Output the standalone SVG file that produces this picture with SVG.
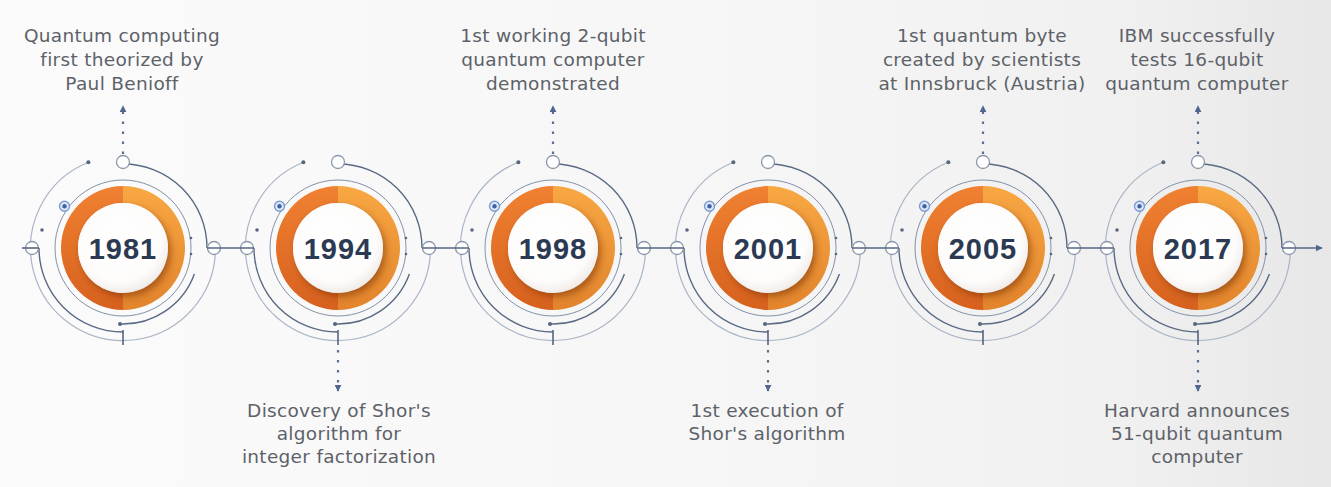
<svg xmlns="http://www.w3.org/2000/svg" xmlns:xlink="http://www.w3.org/1999/xlink" width="1331" height="487" viewBox="0 0 1331 487">
<style>
.lbl{font-family:"DejaVu Sans","Liberation Sans",sans-serif;font-size:18.5px;fill:#5d6269;text-anchor:middle;letter-spacing:0.3px}
.yr{font-family:"Liberation Sans",Arial,sans-serif;font-weight:bold;font-size:29px;fill:#2b3a52;text-anchor:middle;letter-spacing:1px}
.dark{fill:none;stroke:#5a6a83;stroke-width:1.4}
.faint{fill:none;stroke:#aab5c5;stroke-width:1.2}
.inner{fill:none;stroke:#8391a7;stroke-width:1}
.knob{fill:#ffffff;stroke:#8b98ac;stroke-width:1.3}
.conn{fill:none;stroke:#56667f;stroke-width:1.6}
.dot{fill:none;stroke:#5b6f92;stroke-width:2.2;stroke-dasharray:2.5 7.5}
</style>
<defs>
<linearGradient id="bg" x1="0" y1="0" x2="1" y2="0">
<stop offset="0" stop-color="#fbfbfb"/><stop offset="0.55" stop-color="#f6f6f6"/><stop offset="0.85" stop-color="#f0f0f0"/><stop offset="1" stop-color="#e7e7e7"/>
</linearGradient>
<linearGradient id="gL" x1="0" y1="0" x2="0" y2="1">
<stop offset="0" stop-color="#f08131"/><stop offset="1" stop-color="#d6611e"/>
</linearGradient>
<linearGradient id="gR" x1="0" y1="0" x2="0" y2="1">
<stop offset="0" stop-color="#f8a843"/><stop offset="1" stop-color="#e2842c"/>
</linearGradient>
<radialGradient id="gW" cx="0.45" cy="0.4" r="0.6">
<stop offset="0" stop-color="#ffffff"/><stop offset="0.8" stop-color="#fdfcfb"/><stop offset="1" stop-color="#f1ece8"/>
</radialGradient>
<filter id="sh" x="-40%" y="-40%" width="180%" height="180%">
<feDropShadow dx="3" dy="4" stdDeviation="3.5" flood-color="#7a3306" flood-opacity="0.55"/>
</filter>
<marker id="arr" viewBox="0 0 10 10" refX="9" refY="5" markerWidth="7" markerHeight="7" markerUnits="userSpaceOnUse" orient="auto">
<path d="M0,0 L10,5 L0,10 z" fill="#4f6690"/>
</marker>
<g id="dial">
<path class="faint" d="M-34.65,-85.77 A92.5,92.5 0 1 0 92.5,0"/>
<path class="dark" d="M-84,0 A84,84 0 0 0 0,84"/>
<path class="dark" d="M0,-84 A84,84 0 0 1 84,0"/>
<circle class="inner" r="68"/>
<path class="dark" d="M71.4,26 A76,76 0 0 1 -3,75.9"/>
<circle cx="-3" cy="75.9" r="2" fill="#56667f"/>
<circle cx="-34.65" cy="-85.77" r="2" fill="#56667f"/>
<circle cx="-81" cy="-18" r="1.8" fill="#56667f"/>
<circle cx="68" cy="-10" r="1.3" fill="#56667f"/>
<circle cx="68" cy="6" r="1.3" fill="#56667f"/>
<line x1="0" y1="82" x2="0" y2="97" stroke="#56667f" stroke-width="1.6"/>
<path d="M0,-62 A62,62 0 0 0 0,62 L0,45 A45,45 0 0 1 0,-45 Z" fill="url(#gL)"/>
<path d="M0,-62 A62,62 0 0 1 0,62 L0,45 A45,45 0 0 0 0,-45 Z" fill="url(#gR)"/>
<circle r="45" fill="url(#gW)" filter="url(#sh)"/>
<circle cx="-58.5" cy="-41.7" r="5" fill="#dfe8f5" stroke="#7b9bd3" stroke-width="1.4"/>
<circle cx="-58.5" cy="-41.7" r="2.2" fill="#3f63a8"/>
<circle class="knob" cx="0" cy="-86" r="6.5"/>
<circle class="knob" cx="-91" cy="0" r="6.5"/>
<circle class="knob" cx="91" cy="0" r="6.5"/>
</g>
</defs>
<rect width="1331" height="487" fill="url(#bg)"/>

<g id="node-1981">
<use xlink:href="#dial" href="#dial" transform="translate(123,248)"/>
<text class="yr" x="123" y="258.5">1981</text>
<text class="lbl" x="122" y="41.5">Quantum computing</text>
<text class="lbl" x="122" y="65.5">first theorized by</text>
<text class="lbl" x="122" y="89.5">Paul Benioff</text>
</g>
<g id="node-1994">
<use xlink:href="#dial" href="#dial" transform="translate(338,248)"/>
<text class="yr" x="338" y="258.5">1994</text>
<text class="lbl" x="339" y="417">Discovery of Shor's</text>
<text class="lbl" x="339" y="440">algorithm for</text>
<text class="lbl" x="339" y="463">integer factorization</text>
</g>
<g id="node-1998">
<use xlink:href="#dial" href="#dial" transform="translate(553,248)"/>
<text class="yr" x="553" y="258.5">1998</text>
<text class="lbl" x="553" y="41.5">1st working 2-qubit</text>
<text class="lbl" x="553" y="65.5">quantum computer</text>
<text class="lbl" x="553" y="89.5">demonstrated</text>
</g>
<g id="node-2001">
<use xlink:href="#dial" href="#dial" transform="translate(768,248)"/>
<text class="yr" x="768" y="258.5">2001</text>
<text class="lbl" x="767" y="417">1st execution of</text>
<text class="lbl" x="767" y="440">Shor's algorithm</text>
</g>
<g id="node-2005">
<use xlink:href="#dial" href="#dial" transform="translate(983,248)"/>
<text class="yr" x="983" y="258.5">2005</text>
<text class="lbl" x="982" y="41.5">1st quantum byte</text>
<text class="lbl" x="982" y="65.5">created by scientists</text>
<text class="lbl" x="982" y="89.5">at Innsbruck (Austria)</text>
</g>
<g id="node-2017">
<use xlink:href="#dial" href="#dial" transform="translate(1198,248)"/>
<text class="yr" x="1198" y="258.5">2017</text>
<text class="lbl" x="1197" y="41.5">IBM successfully</text>
<text class="lbl" x="1197" y="65.5">tests 16-qubit</text>
<text class="lbl" x="1197" y="89.5">quantum computer</text>
<text class="lbl" x="1197" y="417">Harvard announces</text>
<text class="lbl" x="1197" y="440">51-qubit quantum</text>
<text class="lbl" x="1197" y="463">computer</text>
</g>

<g id="connectors">
<path class="conn" d="M22,248 H39"/>
<path class="conn" d="M207,248 H254"/>
<path class="conn" d="M422,248 H469"/>
<path class="conn" d="M637,248 H684"/>
<path class="conn" d="M852,248 H899"/>
<path class="conn" d="M1067,248 H1114"/>
<path class="conn" d="M1282,248 H1322" marker-end="url(#arr)"/>
<path class="dot" d="M123,154 V106" marker-end="url(#arr)"/>
<path class="dot" d="M553,154 V106" marker-end="url(#arr)"/>
<path class="dot" d="M983,154 V106" marker-end="url(#arr)"/>
<path class="dot" d="M1198,154 V106" marker-end="url(#arr)"/>
<path class="dot" d="M338,350 V391" marker-end="url(#arr)"/>
<path class="dot" d="M768,350 V391" marker-end="url(#arr)"/>
<path class="dot" d="M1198,350 V391" marker-end="url(#arr)"/>
</g>
</svg>
